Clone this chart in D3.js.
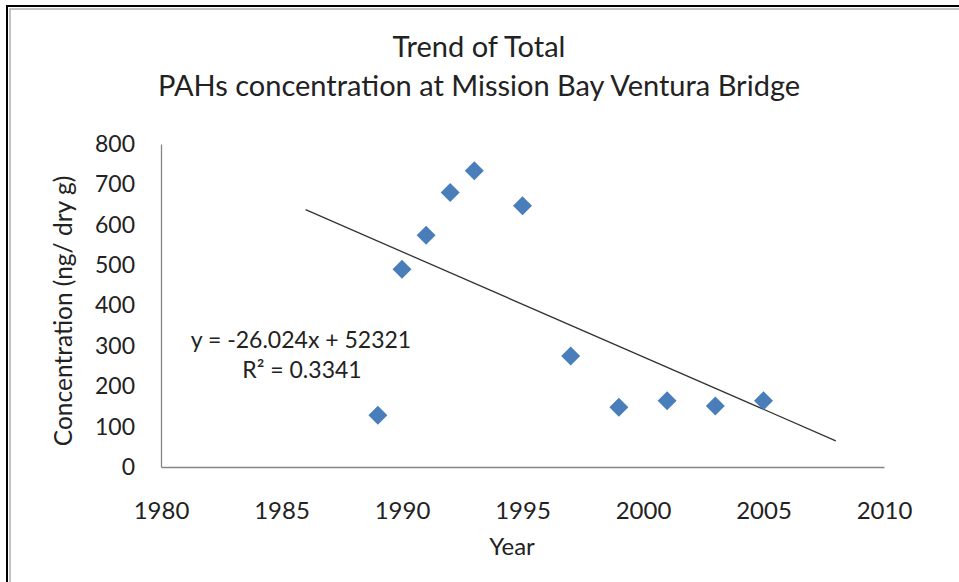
<!DOCTYPE html>
<html><head><meta charset="utf-8">
<script src="https://cdn.jsdelivr.net/npm/d3@7"></script>
<style>
html,body{margin:0;padding:0;background:#fff;}
svg{display:block;}
text{font-family:Lato,"Open Sans",sans-serif;fill:#222;}
</style></head>
<body>
<svg id="chart" width="959" height="582"></svg>
<script>
const years = [1989, 1990, 1991, 1992, 1993, 1995, 1997, 1999, 2001, 2003, 2005];
const concentrations = [128, 490, 574, 680, 734, 647, 275, 148, 164, 151, 164];
const xTicks = [1980, 1985, 1990, 1995, 2000, 2005, 2010];
const yTicks = [0, 100, 200, 300, 400, 500, 600, 700, 800];
const trendSlope = -26.024;
const trendIntercept = 52321;
const trendRange = [1986, 2008];
const titleLines = ["Trend of Total", "PAHs concentration at Mission Bay Ventura Bridge"];
const equationLines = ["y = -26.024x + 52321", "R\u00B2 = 0.3341"];

const svg = d3.select("#chart");

// frame
svg.append("rect").attr("x", 7).attr("y", 6).attr("width", 1000).attr("height", 1000)
  .attr("fill", "none").attr("stroke", "#000").attr("stroke-width", 2);
svg.append("rect").attr("x", 10).attr("y", 9).attr("width", 1000).attr("height", 1000)
  .attr("fill", "none").attr("stroke", "#b0b0b0").attr("stroke-width", 1.5);

const x = d3.scaleLinear().domain([1980, 2010]).range([161, 884]);
const y = d3.scaleLinear().domain([0, 800]).range([467, 144]);

// axes
const xAxis = svg.append("g").attr("transform", `translate(0,${y(0)})`)
  .call(d3.axisBottom(x).tickValues(xTicks).tickFormat(d3.format("d")).tickSize(0).tickPadding(35));
const yAxis = svg.append("g").attr("transform", `translate(${x(1980)},0)`)
  .call(d3.axisLeft(y).tickValues(yTicks).tickSize(0).tickPadding(26));
[xAxis, yAxis].forEach(g => {
  g.select(".domain").attr("stroke", "#868686").attr("stroke-width", 1.3);
  g.selectAll("text").style("font-family", "Lato,'Open Sans',sans-serif").attr("fill", "#222");
});
xAxis.selectAll("text").attr("font-size", 24);
yAxis.selectAll("text").attr("font-size", 23);

// trend line
svg.append("line")
  .attr("x1", x(trendRange[0])).attr("y1", y(trendSlope * trendRange[0] + trendIntercept))
  .attr("x2", x(trendRange[1])).attr("y2", y(trendSlope * trendRange[1] + trendIntercept))
  .attr("stroke", "#333").attr("stroke-width", 1.3);

// points
const sym = d3.symbol().type(d3.symbolSquare).size(180);
svg.append("g").selectAll("path").data(years).join("path")
  .attr("d", sym)
  .attr("transform", (d, i) => `translate(${x(d)},${y(concentrations[i])}) rotate(45)`)
  .attr("fill", "#4a7ebb");

// title
svg.append("g").selectAll("text").data(titleLines).join("text")
  .attr("x", 479).attr("y", (d, i) => 57 + i * 39)
  .attr("text-anchor", "middle").attr("font-size", 29).text(d => d);

// equation
svg.append("text").attr("x", 301).attr("y", 348).attr("text-anchor", "middle")
  .attr("font-size", 23).text(equationLines[0]);
svg.append("text").attr("x", 302).attr("y", 378).attr("text-anchor", "middle")
  .attr("font-size", 23).text(equationLines[1]);

// axis titles
svg.append("text").attr("x", 512).attr("y", 555).attr("text-anchor", "middle")
  .attr("font-size", 24).text("Year");
svg.append("text").attr("transform", "translate(72,311) rotate(-90)").attr("text-anchor", "middle")
  .attr("font-size", 24.5).text("Concentration (ng/ dry g)");
</script>
</body></html>
